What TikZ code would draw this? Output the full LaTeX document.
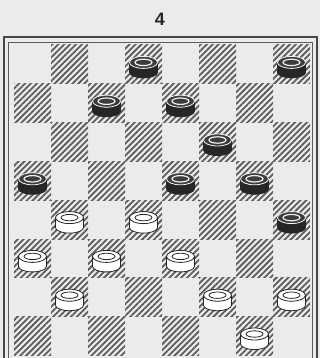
\documentclass[tikz,border=0pt]{standalone}
\usepackage{fontspec}
\setsansfont{Liberation Sans}
\usetikzlibrary{patterns.meta}
\definecolor{paper}{gray}{0.92}
\definecolor{ink}{gray}{0.15}
\definecolor{hatch}{gray}{0.36}
\tikzset{
  frameline/.style={draw=ink!85, line width=1.3pt},
  innerline/.style={draw=ink!75, line width=0.9pt},
  darksq/.style={pattern={Lines[angle=45,distance=4.2pt,line width=1.8pt]},
                 pattern color=hatch},
  piecebody/.style={line width=0.8pt},
  pics/darkpiece/.style={code={
    \filldraw[piecebody, fill=ink, draw=ink] (-14,2) -- (-14,-8)
      arc[start angle=180, end angle=360, x radius=14, y radius=5.5]
      -- (14,2) -- cycle;
    \filldraw[piecebody, fill=ink!90, draw=paper!60] (0,2) ellipse[x radius=14, y radius=6];
    \draw[draw=paper!85, line width=1.2pt] (0,2) ellipse[x radius=8.5, y radius=3.2];
  }},
  pics/lightpiece/.style={code={
    \filldraw[piecebody, fill=white, draw=ink] (-14,2) -- (-14,-8)
      arc[start angle=180, end angle=360, x radius=14, y radius=5.5]
      -- (14,2) -- cycle;
    \filldraw[piecebody, fill=white, draw=ink] (0,2) ellipse[x radius=14, y radius=6];
    \draw[piecebody, draw=ink] (0,2) ellipse[x radius=8.5, y radius=3.2];
  }},
}
\begin{document}
\begin{tikzpicture}[x=1pt, y=1pt]
  \useasboundingbox (0,0) rectangle (320,-358);
  \clip (0,0) rectangle (320,-358);
  \fill[paper] (0,0) rectangle (320,-358);
  % diagram number
  \node[font=\sffamily\bfseries\fontsize{18}{18}\selectfont, text=ink] (num) at (160,-19) {4};
  % board frame
  \draw[frameline] (4,-37) rectangle (317,-380);
  \draw[innerline] (8,-42) rectangle (312,-380);
  % dark squares
  \foreach \r in {1,...,8}
    \foreach \k in {1,...,4} {
      \pgfmathsetmacro{\c}{2*\k-1+mod(\r,2)}
      \path[darksq] ({14+(\c-1)*37},{-(45+(\r-1)*38.8)}) rectangle ++(37,-38.8);
    }
  % black men
  \foreach \c/\r in {4/1,8/1,3/2,5/2,6/3,1/4,5/4,7/4,8/5}
    \pic at ({14+(\c-0.5)*37},{-(45+(\r-0.5)*38.8)}) {darkpiece};
  % white men
  \foreach \c/\r in {2/5,4/5,1/6,3/6,5/6,2/7,6/7,8/7,7/8}
    \pic at ({14+(\c-0.5)*37},{-(45+(\r-0.5)*38.8)}) {lightpiece};
\end{tikzpicture}
\end{document}
